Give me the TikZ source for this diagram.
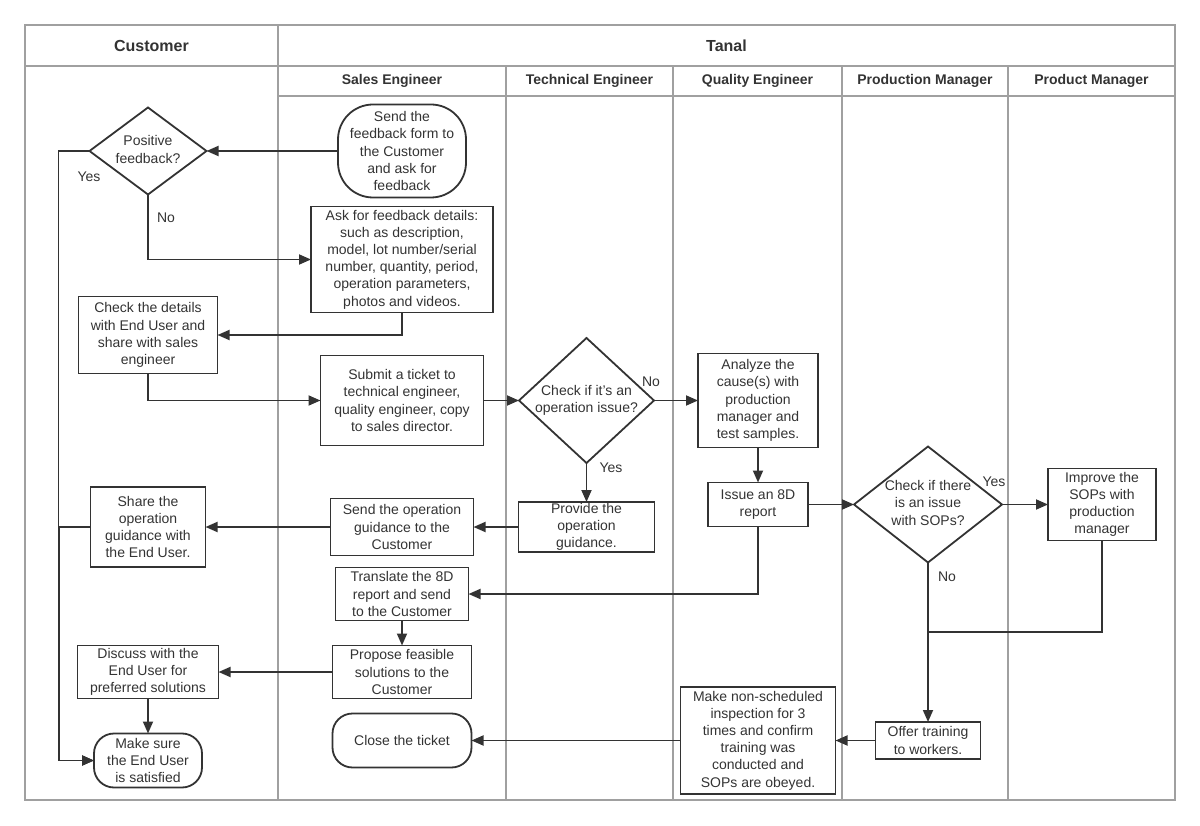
\documentclass[tikz,border=0pt]{standalone}
\usepackage{fontspec}
\setmainfont{Liberation Sans}
\usetikzlibrary{positioning,shapes.geometric,arrows.meta}
\definecolor{laneGray}{HTML}{A0A0A0}
\definecolor{inkDark}{HTML}{333333}
\newcommand{\dtext}[1]{\makebox[0pt]{\begin{tabular}{@{}c@{}}#1\end{tabular}}}

\begin{document}
\begin{tikzpicture}[
        x=1pt, y=-1pt,
        every node/.style={font=\fontsize{14}{17.2}\selectfont, text=inkDark},
        process/.style={rectangle, draw=inkDark, line width=1.8pt, align=center, inner sep=0pt, outer sep=0pt},
        terminal/.style={process, rounded corners=20pt},
        decision/.style={diamond, draw=inkDark, line width=1.8pt, inner sep=0pt, outer sep=0pt},
        lane/.style={draw=laneGray, line width=1.6pt},
        laneHead/.style={font=\bfseries\fontsize{16}{19}\selectfont},
        roleHead/.style={font=\bfseries\fontsize{14}{17}\selectfont},
        flow/.style={draw=inkDark, line width=1.8pt, -{Triangle[length=12pt,width=10pt]}},
        plainLine/.style={draw=inkDark, line width=1.8pt},
    ]
    \useasboundingbox (0,0) rectangle (1200,826);

    % swimlanes
    \draw[lane] (25,25) rectangle (1175,800);
    \draw[lane] (25,66) -- (1175,66);
    \draw[lane] (278,25) -- (278,800);
    \draw[lane] (278,96) -- (1175,96);
    \foreach \x in {506,673,842,1008}
        \draw[lane] (\x,66) -- (\x,800);

    \node[laneHead] (custHead) at (151.5,46) {Customer};
    \node[laneHead] (tanalHead) at (726.5,46) {Tanal};
    \node[roleHead] (salesHead) at (392,81) {Sales Engineer};
    \node[roleHead] (techHead) at (589.5,81) {Technical Engineer};
    \node[roleHead] (qualityHead) at (757.5,81) {Quality Engineer};
    \node[roleHead] (prodHead) at (925,81) {Production Manager};
    \node[roleHead] (productHead) at (1091.5,81) {Product Manager};

    % customer
    \node[decision, minimum width=117pt, minimum height=87pt] (posFeedback) at (148,151) {\dtext{Positive\\feedback?}};
    \node[process, minimum width=139pt, minimum height=77pt] (checkDetails) at (148,335) {Check the details\\with End User and\\share with sales\\engineer};
    \node[process, minimum width=115pt, minimum height=80pt] (shareGuide) at (148,527) {Share the\\operation\\guidance with\\the End User.};
    \node[process, minimum width=141pt, minimum height=53pt] (discuss) at (148,672) {Discuss with the\\End User for\\preferred solutions};
    \node[terminal, minimum width=108pt, minimum height=54pt] (makeSure) [below=35pt of discuss] {Make sure\\the End User\\is satisfied};

    % sales engineer
    \node[terminal, rounded corners=35pt, minimum width=128pt, minimum height=93pt] (sendForm) at (402,151) {Send the\\feedback form to\\the Customer\\and ask for\\feedback};
    \node[process, minimum width=182pt, minimum height=106pt] (askDetails) [below=9pt of sendForm] {Ask for feedback details:\\such as description,\\model, lot number/serial\\number, quantity, period,\\operation parameters,\\photos and videos.};
    \node[process, minimum width=163pt, minimum height=90pt] (submit) [below=43pt of askDetails] {Submit a ticket to\\technical engineer,\\quality engineer, copy\\to sales director.};
    \node[process, minimum width=143pt, minimum height=57pt] (sendGuide) at (402,527) {Send the operation\\guidance to the\\Customer};
    \node[process, minimum width=133pt, minimum height=53pt] (translate) [below=12pt of sendGuide] {Translate the 8D\\report and send\\to the Customer};
    \node[process, minimum width=139pt, minimum height=53pt] (propose) [below=25pt of translate] {Propose feasible\\solutions to the\\Customer};
    \node[terminal, minimum width=139pt, minimum height=54pt] (closeTicket) [below=15pt of propose] {Close the ticket};

    % technical engineer
    \node[decision, minimum width=135pt, minimum height=125pt] (opIssue) at (586.5,400.5) {\dtext{Check if it's an\\operation issue?}};
    \node[process, minimum width=136pt, minimum height=50pt] (provide) [below=39pt of opIssue] {Provide the\\operation\\guidance.};

    % quality engineer
    \node[process, minimum width=120pt, minimum height=94pt] (analyze) at (758,400.5) {Analyze the\\cause(s) with\\production\\manager and\\test samples.};
    \node[process, minimum width=100pt, minimum height=44pt] (issue8D) [below=35pt of analyze] {Issue an 8D\\report};
    \node[process, minimum width=155pt, minimum height=107pt] (nonSched) at (758,740.5) {Make non-scheduled\\inspection for 3\\times and confirm\\training was\\conducted and\\SOPs are obeyed.};

    % production and product manager
    \node[decision, minimum width=148pt, minimum height=116pt] (sopIssue) at (928,504.5) {\dtext{Check if there\\is an issue\\with SOPs?}};
    \node[process, minimum width=105pt, minimum height=37pt] (offer) at (928,740.5) {Offer training\\to workers.};
    \node[process, minimum width=108pt, minimum height=72pt] (improve) at (1102,504.5) {Improve the\\SOPs with\\production\\manager};
    \coordinate (sopJoin) at (928,632);

    % labels
    \node (yesPos) at (89,177) {Yes};
    \node (noPos) at (166,218) {No};
    \node (noOp) at (651,382) {No};
    \node (yesOp) at (611,468) {Yes};
    \node (yesSop) at (994,482) {Yes};
    \node (noSop) at (947,577) {No};

    % connectors
    \path[flow] (sendForm.west) -- (posFeedback.east);
    \path[flow] (posFeedback.west) -- ++(-31,0) |- (makeSure.west);
    \path[flow] (posFeedback.south) |- (askDetails.west);
    \path[flow] (askDetails.south) |- (checkDetails.east);
    \path[flow] (checkDetails.south) |- (submit.west);
    \path[flow] (submit.east) -- (opIssue.west);
    \path[flow] (opIssue.east) -- (analyze.west);
    \path[flow] (opIssue.south) -- (provide.north);
    \path[flow] (analyze.south) -- (issue8D.north);
    \path[flow] (issue8D.east) -- (sopIssue.west);
    \path[flow] (sopIssue.east) -- (improve.west);
    \path[flow] (sopIssue.south) -- (offer.north);
    \path[plainLine] (improve.south) |- (sopJoin);
    \path[flow] (offer.west) -- (nonSched.east);
    \path[flow] (nonSched.west) -- (closeTicket.east);
    \path[flow] (issue8D.south) |- (translate.east);
    \path[flow] (translate.south) -- (propose.north);
    \path[flow] (propose.west) -- (discuss.east);
    \path[flow] (discuss.south) -- (makeSure.north);
    \path[flow] (provide.west) -- (sendGuide.east);
    \path[flow] (sendGuide.west) -- (shareGuide.east);
    \path[flow] (shareGuide.west) -- ++(-31,0) |- (makeSure.west);
\end{tikzpicture}
\end{document}
